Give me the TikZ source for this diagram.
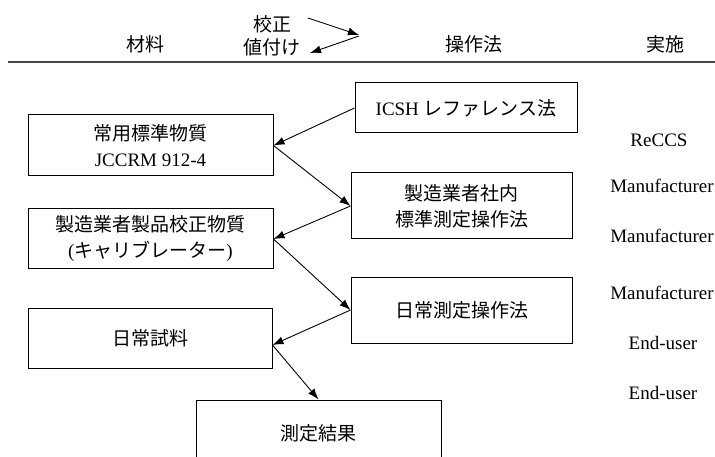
\documentclass[tikz,border=0pt]{standalone}
\usepackage{fontspec}
\setmainfont{Liberation Serif}
\newfontfamily\jp{Noto Sans CJK JP}
\usetikzlibrary{arrows.meta}
\newcommand{\J}[1]{{\jp #1}}
\begin{document}
\begin{tikzpicture}[x=1pt,y=-1pt,
  box/.style={draw,line width=1pt,inner sep=0pt,align=center,font=\fontsize{19}{26}\selectfont},
  lbl/.style={inner sep=0pt,font=\fontsize{19}{24}\selectfont,align=center},
  conn/.style={line width=0.9pt,-{Latex[length=11pt,width=8pt]}}]
\useasboundingbox (0,0) rectangle (715,457);
% header
\node[lbl] (h1) at (145,44) {\J{材料}};
\node[lbl] (h2) at (272,24) {\J{校正}};
\node[lbl] (h3) at (272,47) {\J{値付け}};
\node[lbl] (h4) at (474,44) {\J{操作法}};
\node[lbl] (h5) at (665,44) {\J{実施}};
\coordinate (hl1) at (8,62);
\coordinate (hl2) at (715,62);
\draw[line width=2pt,black!72] (hl1) -- (hl2);
\coordinate (l1) at (308,18);
\coordinate (l2) at (359,35);
\coordinate (l2b) at (359,36);
\coordinate (l3) at (310,53);
\draw[conn] (l1) -- (l2);
\draw[conn] (l2b) -- (l3);
% boxes
\node[box,minimum width=245pt,minimum height=61pt] (std) at (150.5,145.5) {\J{常用標準物質}\\JCCRM 912-4};
\node[box,minimum width=245pt,minimum height=60pt] (cal) at (150.5,239) {\J{製造業者製品校正物質}\\(\J{キャリブレーター})};
\node[box,minimum width=222pt,minimum height=50pt] (icsh) at (466,108) {ICSH \J{レファレンス法}};
\node[box,minimum width=221pt,minimum height=66pt] (mfr) at (461.5,206) {\J{製造業者社内}\\\J{標準測定操作法}};
\node[box,minimum width=221pt,minimum height=66pt] (rout) at (461.5,310) {\J{日常測定操作法}};
\node[box,minimum width=244pt,minimum height=60pt] (samp) at (150,338) {\J{日常試料}};
\node[box,minimum width=245pt,minimum height=66pt] (res) at (318.5,433) {\J{測定結果}};
% right column
\node[lbl] (r1) at (659,140) {ReCCS};
\node[lbl] (r2) at (662,186) {Manufacturer};
\node[lbl] (r3) at (662,236) {Manufacturer};
\node[lbl] (r4) at (662,293) {Manufacturer};
\node[lbl] (r5) at (663,343) {End-user};
\node[lbl] (r6) at (663,393) {End-user};
% connectors
\draw[conn] (icsh.west) -- (std.east);
\draw[conn] (std.east) -- (mfr.west);
\draw[conn] (mfr.west) -- (cal.east);
\draw[conn] (cal.east) -- (rout.west);
\draw[conn] (rout.west) -- ([yshift=-7pt]samp.east);
\draw[conn] ([yshift=-7pt]samp.east) -- (res.north);
\end{tikzpicture}
\end{document}
